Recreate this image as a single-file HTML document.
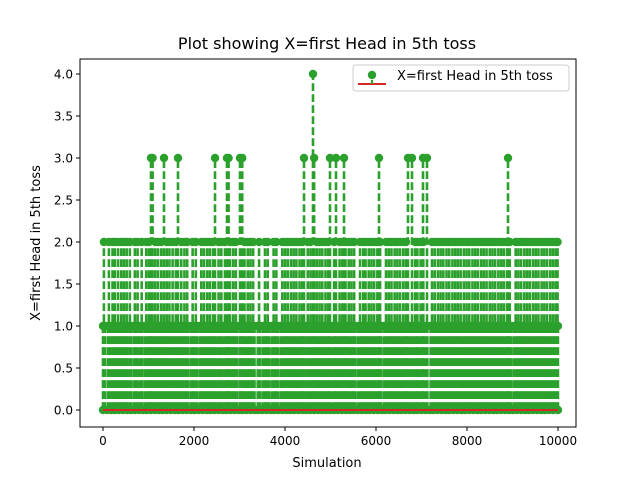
<!DOCTYPE html>
<html><head><meta charset="utf-8"><style>
body{margin:0;background:#fff;font-family:"Liberation Sans","DejaVu Sans",sans-serif}
svg text{font-family:"DejaVu Sans","Liberation Sans",sans-serif;fill:#000}
</style></head><body>
<svg id="chart" width="640" height="480" xmlns="http://www.w3.org/2000/svg">
<rect width="640" height="480" fill="#fff"/>
<g id="stems"></g>
<g id="markers"></g>
<g id="axes"></g>
<text x="327" y="49" font-size="16" text-anchor="middle">Plot showing X=first Head in 5th toss</text>
<text x="327" y="467" font-size="13" text-anchor="middle">Simulation</text>
<text transform="translate(40,243) rotate(-90)" font-size="13" text-anchor="middle">X=first Head in 5th toss</text>
<g>
<rect x="353" y="65" width="216" height="26" rx="3" fill="#fff" fill-opacity="0.8" stroke="#ccc"/>
<line x1="358" y1="84" x2="386" y2="84" stroke="#d62728" stroke-width="2"/>
<line x1="372" y1="84" x2="372" y2="75" stroke="#2ca02c" stroke-width="2" stroke-dasharray="4,2"/>
<circle cx="372" cy="75" r="4.2" fill="#2ca02c"/>
<text x="397" y="80" font-size="13">X=first Head in 5th toss</text>
</g>
</svg>
<script>
const zerosAt=[0,90,180,260,350,440,530,610,700,790,880,960,1050,1140,1230,1310,1400,1490,1580,1660,1750,1840,1930,2010,2100,2190,2280,2360,2450,2540,2630,2710,2800,2890,2980,3060,3150,3240,3330,3410,3500,3590,3680,3760,3850,3940,4030,4110,4200,4290,4380,4460,4550,4640,4730,4810,4900,4990,5080,5160,5250,5340,5430,5510,5600,5690,5780,5860,5950,6040,6130,6210,6300,6390,6480,6560,6650,6740,6830,6910,7000,7090,7180,7260,7350,7440,7530,7610,7700,7790,7880,7960,8050,8140,8230,8310,8400,8490,8580,8660,8750,8840,8930,9010,9100,9190,9280,9360,9450,9540,9630,9710,9800,9890,9999];
const onesAt=[0,45,110,170,230,290,350,420,480,540,610,670,730,800,860,920,990,1050,1120,1180,1240,1310,1370,1430,1500,1560,1620,1690,1750,1810,1880,1940,2000,2070,2130,2190,2260,2320,2380,2450,2510,2570,2640,2700,2760,2830,2890,2950,3020,3080,3140,3210,3270,3330,3400,3460,3520,3590,3650,3710,3780,3840,3900,3970,4030,4090,4160,4220,4280,4350,4410,4470,4540,4600,4660,4730,4790,4850,4920,4980,5040,5110,5170,5230,5300,5360,5420,5490,5550,5610,5680,5740,5800,5870,5930,5990,6060,6120,6180,6250,6310,6370,6440,6500,6560,6630,6690,6750,6820,6880,6940,7010,7070,7130,7200,7260,7320,7390,7450,7510,7580,7640,7700,7770,7830,7890,7960,8020,8080,8150,8210,8270,8340,8400,8460,8530,8590,8650,8720,8780,8840,8910,8970,9030,9100,9160,9220,9290,9350,9410,9480,9540,9600,9670,9730,9790,9860,9920,9999];
const twosAt=[20,130,210,260,330,400,460,520,590,700,760,850,950,1010,1150,1210,1280,1400,1460,1530,1600,1720,1790,1850,1970,2040,2160,2220,2290,2350,2420,2540,2600,2680,2790,2860,2920,3110,3180,3240,3300,3430,3560,3620,3750,3810,3940,4000,4060,4130,4190,4250,4320,4380,4500,4560,4700,4760,4820,4890,4950,5080,5200,5260,5330,5400,5460,5520,5650,5720,5770,5840,5900,5960,6030,6090,6220,6280,6340,6410,6470,6530,6600,6660,6860,6910,6980,7040,7230,7290,7360,7420,7480,7550,7610,7680,7740,7800,7860,7930,7990,8050,8120,8180,8240,8310,8370,8430,8500,8560,8620,8690,8750,8810,8880,8940,9070,9130,9190,9260,9320,9380,9450,9510,9570,9640,9700,9760,9830,9890,9950,9990];
const threesAt=[1055,1090,1340,1648,2462,2725,2760,3011,3060,4418,4640,4989,5121,5297,6066,6703,6791,7033,7121,8901];
const foursAt=[4615];
const xTicks=[0,2000,4000,6000,8000,10000];
const yTicks=[0,0.5,1,1.5,2,2.5,3,3.5,4];
const yTickLabels=["0.0","0.5","1.0","1.5","2.0","2.5","3.0","3.5","4.0"];

const NS="http://www.w3.org/2000/svg";
const X0=80,X1=576,Y0=59,Y1=427;
const xs=v=>103+v*(558-103)/10000;
const ys=v=>410-v*(410-74)/4;
const stemsG=document.getElementById('stems'),markG=document.getElementById('markers'),axG=document.getElementById('axes');
function mk(tag,attrs,parent){const e=document.createElementNS(NS,tag);for(const k in attrs)e.setAttribute(k,attrs[k]);parent.appendChild(e);return e;}
const groups=[[zerosAt,0],[onesAt,1],[twosAt,2],[threesAt,3],[foursAt,4]];
groups.forEach(([arr,val])=>{arr.forEach(s=>{
  if(val>0){const l=mk('line',{x1:xs(s),x2:xs(s),y1:ys(0),y2:ys(val),stroke:'#2ca02c','stroke-width':2.6,'stroke-dasharray':'7.7,3.3'},stemsG);
  
  }
  const c=mk('circle',{cx:xs(s),cy:ys(val),r:4.2,fill:'#2ca02c'},markG);
  
  
});});
const base=mk('line',{x1:xs(0),x2:xs(10000),y1:ys(0),y2:ys(0),stroke:'#d62728','stroke-width':2},axG);


const frame=mk('rect',{x:X0,y:Y0,width:X1-X0,height:Y1-Y0,fill:'none',stroke:'#000','stroke-width':1},axG);


xTicks.forEach(t=>{
  const l=mk('line',{x1:xs(t),x2:xs(t),y1:Y1,y2:Y1+4,stroke:'#000'},axG);
  
  
  const tx=mk('text',{x:xs(t),y:Y1+18,'font-size':12,'text-anchor':'middle'},axG);tx.textContent=t;
  
  
});
yTicks.forEach((t,i)=>{
  const l=mk('line',{x1:X0-4,x2:X0,y1:ys(t),y2:ys(t),stroke:'#000'},axG);
  
  
  const tx=mk('text',{x:X0-7,y:ys(t)+4.5,'font-size':12,'text-anchor':'end'},axG);tx.textContent=yTickLabels[i];
  
  
});
</script>
</body></html>
